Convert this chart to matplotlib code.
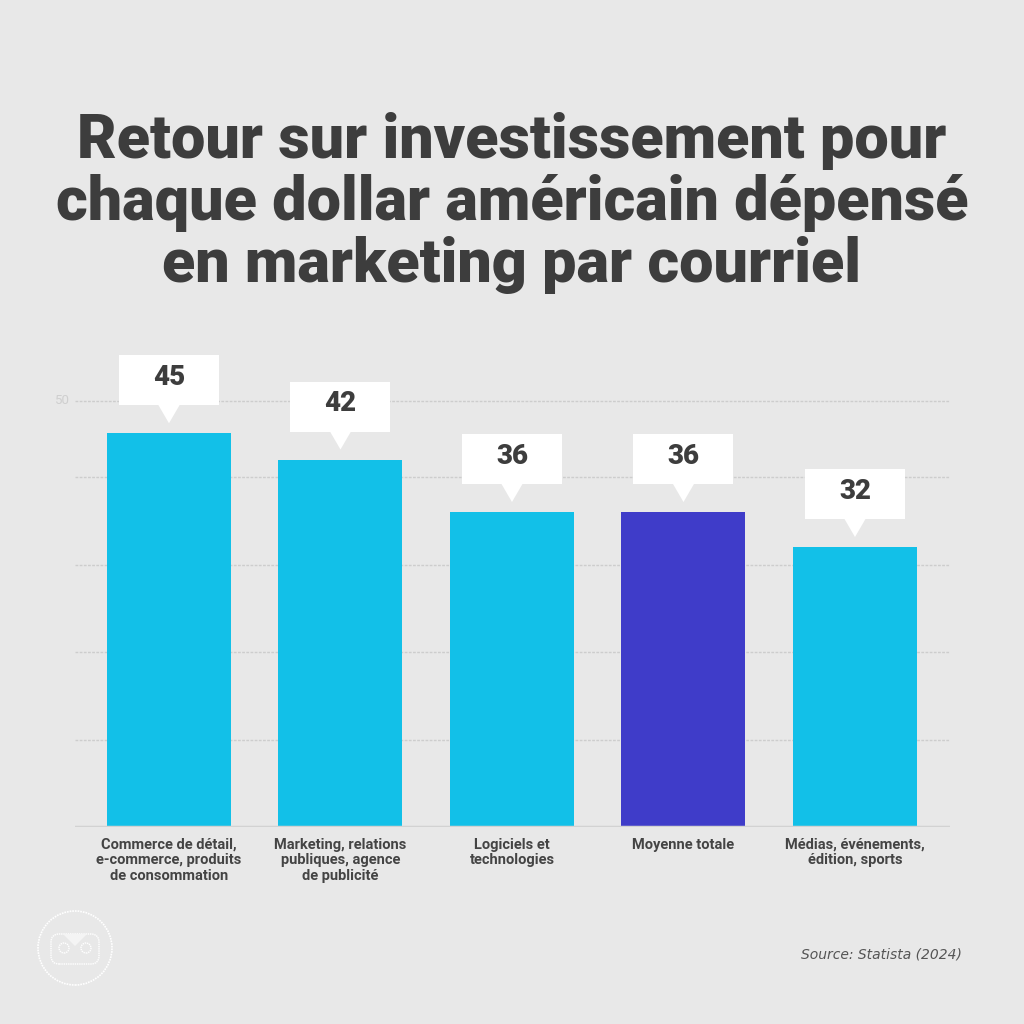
import numpy as np
import matplotlib.pyplot as plt
from matplotlib.patches import Rectangle, Polygon, Circle, FancyBboxPatch

# données
categories = ["Commerce de détail,\ne-commerce, produits\nde consommation",
              "Marketing, relations\npubliques, agence\nde publicité",
              "Logiciels et\ntechnologies",
              "Moyenne totale",
              "Médias, événements,\nédition, sports"]
valeurs = [45, 42, 36, 36, 32]
couleurs = ["#12c0e8", "#12c0e8", "#12c0e8", "#3f3cc9", "#12c0e8"]
titre = "Retour sur investissement pour\nchaque dollar américain dépensé\nen marketing par courriel"
source = "Source: Statista (2024)"

fond = "#e8e8e8"
gris = "#3d3d3d"
police = ["Roboto", "DejaVu Sans"]

fig = plt.figure(figsize=(10.24, 10.24), dpi=100, facecolor=fond)
ax = fig.add_axes([75 / 1024, 1 - 827 / 1024, 875 / 1024, 437.5 / 1024])
ax.set_facecolor(fond)

x = np.arange(len(valeurs))
ax.bar(x, valeurs, width=0.723, color=couleurs, zorder=3)
ax.set_xlim(-0.548, 4.554)
ax.set_ylim(0, 50)

# grille
for g in [10, 20, 30, 40, 48.7]:
    ax.axhline(g, color="#cdcdcd", lw=1, ls=(0, (2, 1)), zorder=1)
ax.axhline(0, color="#d2d2d2", lw=2.5, zorder=4)
ax.text(-0.62, 48.7, "50", ha="center", va="center", color="#cfcfcf",
        fontsize=9.5, family=police)

for s in ax.spines.values():
    s.set_visible(False)
ax.set_xticks([])
ax.set_yticks([])

# étiquettes des valeurs (bulles)
px_x = 1 / 171.5
px_y = 1 / 8.75
for i, v in enumerate(valeurs):
    b0 = v + 28 * px_y
    b1 = v + 78 * px_y
    ax.add_patch(Rectangle((i - 50 * px_x, b0), 100 * px_x, b1 - b0,
                           facecolor="white", edgecolor="none", clip_on=False, zorder=5))
    ax.add_patch(Polygon([(i - 11 * px_x, b0 + 0.1), (i + 11 * px_x, b0 + 0.1),
                          (i, v + 10 * px_y)], closed=True, facecolor="white",
                         edgecolor="none", clip_on=False, zorder=5))
    ax.text(i, (b0 + b1) / 2 + 0.3, str(v), ha="center", va="center", color=gris,
            fontsize=20, fontweight="black", family=police, zorder=6)

# catégories
for i, c in enumerate(categories):
    ax.text(i, -1.2, c, ha="center", va="top", color="#444444", fontsize=10.5,
            fontweight="bold", family=police, linespacing=1.15)

# titre
fig.text(0.5, 1 - 203 / 1024, titre, ha="center", va="center", color=gris,
         fontsize=44, fontweight="black", family=police, linespacing=1.08)

# source
fig.text(962 / 1024, 1 - 955 / 1024, source, ha="right", va="center",
         color="#555555", fontsize=10, style="italic", family="DejaVu Sans")

# logo
lx, ly = 75 / 1024, 1 - 948 / 1024
fig.patches.append(Circle((lx, ly), 37 / 1024, transform=fig.transFigure,
                          facecolor="none", edgecolor="white", lw=1.2, ls=(0, (1, 0.6))))
fig.patches.append(FancyBboxPatch((lx - 24 / 1024, ly - 16 / 1024), 48 / 1024, 30 / 1024,
                                  boxstyle="round,pad=0,rounding_size=0.008",
                                  transform=fig.transFigure, facecolor="none",
                                  edgecolor="white", lw=1, ls=(0, (1, 0.6))))
for ex in (-11, 11):
    fig.patches.append(Circle((lx + ex / 1024, ly), 5 / 1024, transform=fig.transFigure,
                              facecolor="none", edgecolor="white", lw=1, ls=(0, (1, 0.6))))
fig.patches.append(Polygon([(lx - 12 / 1024, ly + 14 / 1024), (lx + 12 / 1024, ly + 14 / 1024),
                            (lx, ly + 2 / 1024)], closed=True, transform=fig.transFigure,
                           facecolor="#f4f4f4", edgecolor="none"))

fig.savefig("out.png", dpi=100, facecolor=fond)
